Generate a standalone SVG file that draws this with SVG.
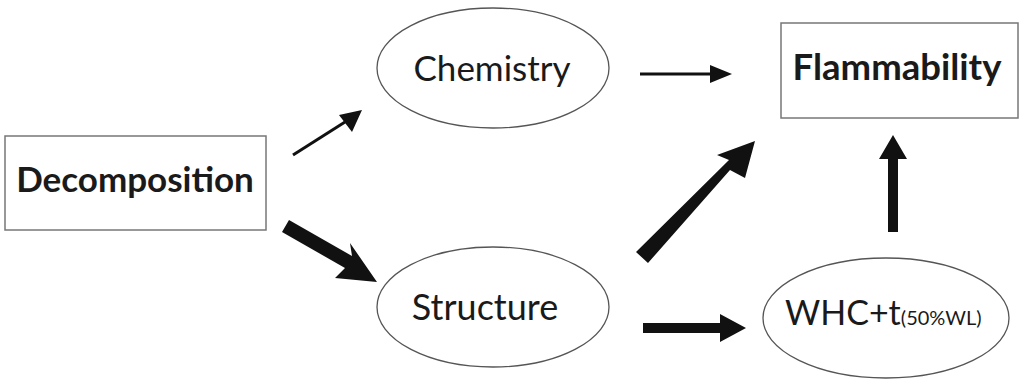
<svg xmlns="http://www.w3.org/2000/svg" width="1024" height="388" viewBox="0 0 1024 388">
<style>
.box{fill:#fff;stroke:#777;stroke-width:1.5}
.ell{fill:#fff;stroke:#555;stroke-width:1.3}
.lbl{font-family:Lato,"Open Sans",sans-serif;fill:#1a1a1a}
.b{font-weight:bold}
.arr{fill:#111;stroke:none}
.ln{stroke:#111;fill:none}
</style>
<rect width="1024" height="388" fill="#fff"/>
<g id="decomposition">
<rect class="box" x="5" y="136" width="261" height="94"/>
<text class="lbl b" x="135" y="192" font-size="35" text-anchor="middle">Decomposition</text>
</g>
<g id="chemistry">
<ellipse class="ell" cx="493" cy="68" rx="116" ry="60"/>
<text class="lbl" x="492" y="81" font-size="35" text-anchor="middle">Chemistry</text>
</g>
<g id="flammability">
<rect class="box" x="781" y="23" width="237" height="95"/>
<text class="lbl b" x="897" y="80" font-size="36.5" text-anchor="middle">Flammability</text>
</g>
<g id="structure">
<ellipse class="ell" cx="493" cy="307" rx="116" ry="60"/>
<text class="lbl" x="485" y="320" font-size="36" text-anchor="middle">Structure</text>
</g>
<g id="whc">
<ellipse class="ell" cx="886" cy="318" rx="123" ry="60"/>
<text class="lbl" x="785" y="325" font-size="34">WHC+t<tspan font-size="20">(50%WL)</tspan></text>
</g>
<g id="connectors">
<line class="ln" x1="293" y1="155" x2="345" y2="122" stroke-width="3"/>
<polygon class="arr" points="362,110 339,115 352,132"/>
<polygon class="arr" points="289,220 282,232 345,268 335,278 377,282 350,243 352,256"/>
<line class="ln" x1="640" y1="74" x2="712" y2="74" stroke-width="3"/>
<polygon class="arr" points="732,74 710,65 710,83"/>
<polygon class="arr" points="636,252 648,263 730,170 745,178 755,141 717,155 729,160"/>
<polygon class="arr" points="643,323 643,333 720,333 720,342 746,328 720,314 720,323"/>
<polygon class="arr" points="888,232 898,232 898,159 907,159 893,135 879,159 888,159"/>
</g>
</svg>
